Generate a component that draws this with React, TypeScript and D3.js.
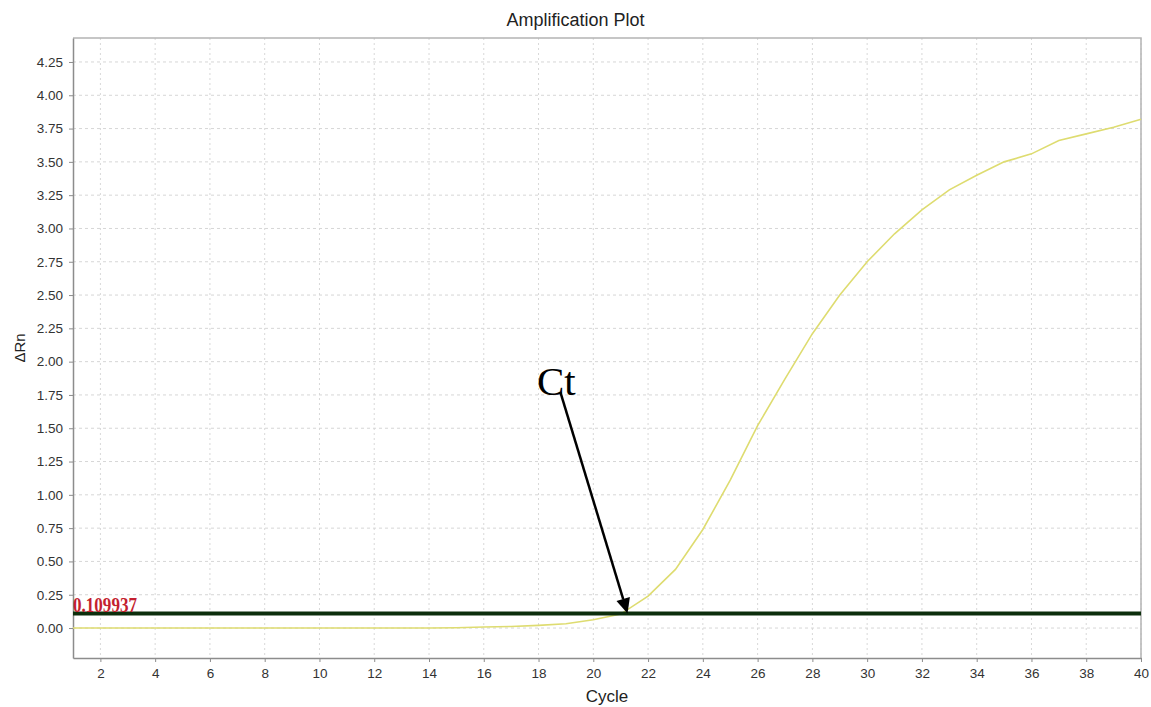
import React, { useEffect, useRef } from "react";
import * as d3 from "d3";

// cycle numbers and the ΔRn readings of the single amplification curve
const cycles = [
  1, 2, 3, 4, 5, 6, 7, 8, 9, 10, 11, 12, 13, 14, 15, 16, 17, 18, 19, 20,
  21, 22, 23, 24, 25, 26, 27, 28, 29, 30, 31, 32, 33, 34, 35, 36, 37, 38, 39, 40,
];
const deltaRn = [
  0, 0, 0, 0, 0, 0, 0, 0, 0, 0, 0, 0, 0, 0, 0.002, 0.008, 0.012, 0.02, 0.032, 0.062,
  0.105, 0.24, 0.44, 0.74, 1.11, 1.52, 1.87, 2.21, 2.5, 2.75, 2.96, 3.14, 3.29, 3.4,
  3.5, 3.56, 3.66, 3.71, 3.76, 3.82,
];
const xTicks = [2, 4, 6, 8, 10, 12, 14, 16, 18, 20, 22, 24, 26, 28, 30, 32, 34, 36, 38, 40];
const yTicks = [0, 0.25, 0.5, 0.75, 1, 1.25, 1.5, 1.75, 2, 2.25, 2.5, 2.75, 3, 3.25, 3.5, 3.75, 4, 4.25];
const threshold = 0.109937;
// Ct annotation: label anchor and arrow ends in data units
const ctLabel = { cycle: 18.65, value: 1.75 };
const ctArrowFrom = { cycle: 18.8, value: 1.77 };
const ctArrowTo = { cycle: 21.25, value: threshold };

const W = 1151;
const H = 707;
const margin = { top: 38, right: 10, bottom: 49, left: 73 };

const App = () => {
  const ref = useRef<SVGSVGElement>(null);

  useEffect(() => {
    const svg = d3.select(ref.current);
    svg.selectAll("*").remove();

    const x = d3.scaleLinear().domain([1, 40]).range([margin.left, W - margin.right]);
    const y = d3.scaleLinear().domain([-0.225, 4.43]).range([H - margin.bottom, margin.top]);
    const sans = "'Liberation Sans', Arial, sans-serif";
    const serif = "'Liberation Serif', 'Times New Roman', serif";

    // dashed grid
    const grid = svg.append("g");
    grid
      .selectAll(".gx")
      .data(xTicks)
      .enter()
      .append("line")
      .attr("x1", (d) => x(d))
      .attr("x2", (d) => x(d))
      .attr("y1", margin.top)
      .attr("y2", H - margin.bottom)
      .style("stroke", "#d8d8d8")
      .style("stroke-dasharray", "2,3");
    grid
      .selectAll(".gy")
      .data(yTicks)
      .enter()
      .append("line")
      .attr("x1", margin.left)
      .attr("x2", W - margin.right)
      .attr("y1", (d) => y(d))
      .attr("y2", (d) => y(d))
      .style("stroke", "#d6d6d6")
      .style("stroke-dasharray", "3,3");

    // frame (top + right)
    svg
      .append("path")
      .attr("d", `M${margin.left},${margin.top}H${W - margin.right}V${H - margin.bottom}`)
      .style("fill", "none")
      .style("stroke", "#b4b4b4")
      .style("stroke-width", 1.5);

    // axes
    const yAxis = svg
      .append("g")
      .attr("transform", `translate(${margin.left},0)`)
      .call(
        d3
          .axisLeft(y)
          .tickValues(yTicks)
          .tickSize(4)
          .tickSizeOuter(0)
          .tickPadding(6)
          .tickFormat(d3.format(".2f"))
      );
    const xAxis = svg
      .append("g")
      .attr("transform", `translate(0,${H - margin.bottom})`)
      .call(d3.axisBottom(x).tickValues(xTicks).tickSize(4).tickSizeOuter(0).tickPadding(6));
    [yAxis, xAxis].forEach((a) => {
      a.select(".domain").style("stroke", "#8c8c8c").style("stroke-width", 1.5);
      a.selectAll(".tick line").style("stroke", "#8c8c8c");
      a.selectAll(".tick text")
        .style("font-family", sans)
        .style("font-size", "13.5px")
        .style("fill", "#333");
    });

    // amplification curve
    const line = d3
      .line<number>()
      .x((d, i) => x(cycles[i]))
      .y((d) => y(d));
    svg
      .append("path")
      .datum(deltaRn)
      .attr("d", line)
      .style("fill", "none")
      .style("stroke", "#dedc70")
      .style("stroke-width", 1.6);

    // threshold
    svg
      .append("line")
      .attr("x1", margin.left)
      .attr("x2", W - margin.right)
      .attr("y1", y(threshold))
      .attr("y2", y(threshold))
      .style("stroke", "#0c2e0c")
      .style("stroke-width", 4);
    svg
      .append("text")
      .attr("x", margin.left)
      .attr("y", y(threshold) - 1)
      .attr("textLength", 64)
      .attr("lengthAdjust", "spacingAndGlyphs")
      .style("font-family", serif)
      .style("font-weight", "bold")
      .style("font-size", "20px")
      .style("fill", "#c41f30")
      .text(threshold.toString());

    // Ct annotation
    svg
      .append("text")
      .attr("x", x(ctLabel.cycle))
      .attr("y", y(ctLabel.value))
      .attr("text-anchor", "middle")
      .style("font-family", serif)
      .style("font-size", "41px")
      .style("fill", "#000")
      .text("Ct");

    const x0 = x(ctArrowFrom.cycle),
      y0 = y(ctArrowFrom.value),
      x1 = x(ctArrowTo.cycle),
      y1 = y(ctArrowTo.value);
    const ang = Math.atan2(y1 - y0, x1 - x0);
    const headLen = 15,
      headHalf = 7;
    const bx = x1 - headLen * Math.cos(ang),
      by = y1 - headLen * Math.sin(ang);
    svg
      .append("line")
      .attr("x1", x0)
      .attr("y1", y0)
      .attr("x2", bx)
      .attr("y2", by)
      .style("stroke", "#000")
      .style("stroke-width", 2.5);
    svg
      .append("path")
      .attr(
        "d",
        `M${x1},${y1}L${bx + headHalf * Math.sin(ang)},${by - headHalf * Math.cos(ang)}L${
          bx - headHalf * Math.sin(ang)
        },${by + headHalf * Math.cos(ang)}Z`
      )
      .style("fill", "#000");

    // titles
    svg
      .append("text")
      .attr("x", W / 2)
      .attr("y", 26)
      .attr("text-anchor", "middle")
      .style("font-family", sans)
      .style("font-size", "18px")
      .style("fill", "#222")
      .text("Amplification Plot");
    svg
      .append("text")
      .attr("x", (margin.left + W - margin.right) / 2)
      .attr("y", 702)
      .attr("text-anchor", "middle")
      .style("font-family", sans)
      .style("font-size", "17px")
      .style("fill", "#222")
      .text("Cycle");
    svg
      .append("text")
      .attr("transform", `translate(25,348) rotate(-90)`)
      .attr("text-anchor", "middle")
      .style("font-family", sans)
      .style("font-size", "15px")
      .style("fill", "#222")
      .text("ΔRn");
  }, []);

  return (
    <svg
      ref={ref}
      width={W}
      height={H}
      style={{ position: "fixed", left: 0, top: 0, background: "#fff" }}
    />
  );
};

export default App;
